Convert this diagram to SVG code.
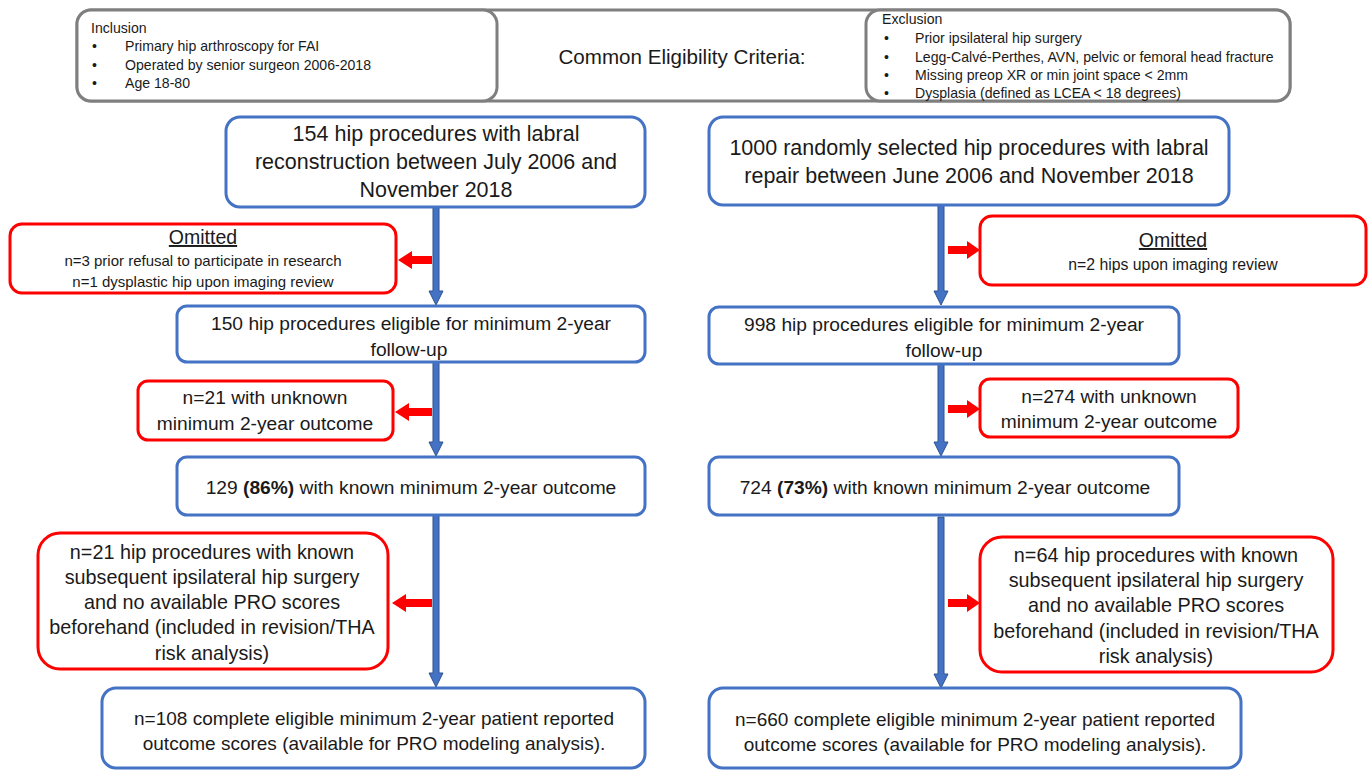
<svg xmlns="http://www.w3.org/2000/svg" width="1371" height="770" viewBox="0 0 1371 770">
<style>
text{font-family:"Liberation Sans",Arial,sans-serif;fill:#1a1a1a}
.g{fill:#fff;stroke:#7f7f7f;stroke-width:3}
.b{fill:#fff;stroke:#4472c4;stroke-width:3}
.r{fill:#fff;stroke:#ff0000;stroke-width:3}
.s13{font-size:14.1px}
.s14{font-size:15px}
.s15{font-size:15.8px}
.s17{font-size:19px}
.s18{font-size:19.2px}
.s20b{font-size:19.8px}
.s19{font-size:20.6px}
.s20{font-size:21.5px}
.om{font-size:19.5px}
.c{text-anchor:middle}
.ba{fill:#4472c4;stroke:#2f528f;stroke-width:1}
.ra{fill:#ff0000}
</style>
<rect width="1371" height="770" fill="#fff"/>
<g id="criteria">
<rect class="g" x="77" y="10" width="1213" height="91" rx="14"/>
<text class="s19 c" x="682" y="64">Common Eligibility Criteria:</text>
</g>
<g id="inclusion">
<rect class="g" x="77" y="10" width="420" height="91" rx="14"/>
<text class="s13" x="91" y="33">Inclusion</text>
<text class="s13" x="92" y="51">•</text><text class="s13" x="125" y="51">Primary hip arthroscopy for FAI</text>
<text class="s13" x="92" y="70">•</text><text class="s13" x="125" y="70">Operated by senior surgeon 2006-2018</text>
<text class="s13" x="92" y="88">•</text><text class="s13" x="125" y="88">Age 18-80</text>
</g>
<g id="exclusion">
<rect class="g" x="866" y="10" width="424" height="91" rx="14"/>
<text class="s13" x="882" y="24">Exclusion</text>
<text class="s13" x="884" y="43">•</text><text class="s13" x="915" y="43">Prior ipsilateral hip surgery</text>
<text class="s13" x="884" y="62">•</text><text class="s13" x="915" y="62">Legg-Calvé-Perthes, AVN, pelvic or femoral head fracture</text>
<text class="s13" x="884" y="80">•</text><text class="s13" x="915" y="80">Missing preop XR or min joint space &lt; 2mm</text>
<text class="s13" x="884" y="98">•</text><text class="s13" x="915" y="98">Dysplasia (defined as LCEA &lt; 18 degrees)</text>
</g>
<g id="connectors">
<polygon class="ba" points="433,207 439,207 439,291 443,291 436,305 429,291 433,291"/>
<polygon class="ba" points="938,205 944,205 944,291 948,291 941,305 934,291 938,291"/>
<polygon class="ba" points="433,362 439,362 439,442 443,442 436,456 429,442 433,442"/>
<polygon class="ba" points="938,364 944,364 944,442 948,442 941,456 934,442 938,442"/>
<polygon class="ba" points="433,515 439,515 439,673 443,673 436,687 429,673 433,673"/>
<polygon class="ba" points="938,517 944,517 944,674 948,674 941,688 934,674 938,674"/>
<polygon class="ra" points="432,256 412,256 412,251 398,260 412,269 412,264 432,264"/>
<polygon class="ra" points="948,246 967,246 967,241 980,250 967,259 967,254 948,254"/>
<polygon class="ra" points="432,408 409,408 409,403 395,412 409,421 409,416 432,416"/>
<polygon class="ra" points="948,405 967,405 967,400 980,409 967,418 967,413 948,413"/>
<polygon class="ra" points="432,599 406,599 406,594 392,603 406,612 406,607 432,607"/>
<polygon class="ra" points="948,599 967,599 967,594 980,603 967,612 967,607 948,607"/>
</g>
<g id="left1">
<rect class="b" x="226" y="117" width="419" height="90" rx="14"/>
<text class="s20 c" x="436" y="141">154 hip procedures with labral</text>
<text class="s20 c" x="436" y="169">reconstruction between July 2006 and</text>
<text class="s20 c" x="436" y="197">November 2018</text>
</g>
<g id="right1">
<rect class="b" x="709" y="117" width="520" height="88" rx="14"/>
<text class="s20 c" x="969" y="155">1000 randomly selected hip procedures with labral</text>
<text class="s20 c" x="969" y="183">repair between June 2006 and November 2018</text>
</g>
<g id="omitLeft">
<rect class="r" x="10" y="224" width="386" height="69" rx="12"/>
<text class="om c" x="203" y="244" text-decoration="underline">Omitted</text>
<text class="s14 c" x="203" y="266">n=3 prior refusal to participate in research</text>
<text class="s14 c" x="203" y="287">n=1 dysplastic hip upon imaging review</text>
</g>
<g id="omitRight">
<rect class="r" x="980" y="216" width="386" height="69" rx="12"/>
<text class="om c" x="1173" y="247" text-decoration="underline">Omitted</text>
<text class="s15 c" x="1173" y="270">n=2 hips upon imaging review</text>
</g>
<g id="left2">
<rect class="b" x="177" y="306" width="468" height="56" rx="10"/>
<text class="s18 c" x="411" y="330">150 hip procedures eligible for minimum 2-year</text>
<text class="s18 c" x="409" y="356">follow-up</text>
</g>
<g id="right2">
<rect class="b" x="709" y="307" width="470" height="57" rx="10"/>
<text class="s18 c" x="944" y="331">998 hip procedures eligible for minimum 2-year</text>
<text class="s18 c" x="944" y="357">follow-up</text>
</g>
<g id="unknownLeft">
<rect class="r" x="138" y="381" width="255" height="59" rx="10"/>
<text class="s18 c" x="265" y="404">n=21 with unknown</text>
<text class="s18 c" x="265" y="430">minimum 2-year outcome</text>
</g>
<g id="unknownRight">
<rect class="r" x="980" y="379" width="258" height="58" rx="10"/>
<text class="s18 c" x="1109" y="403">n=274 with unknown</text>
<text class="s18 c" x="1109" y="428">minimum 2-year outcome</text>
</g>
<g id="left3">
<rect class="b" x="177" y="457" width="468" height="58" rx="10"/>
<text class="s18 c" x="411" y="494">129 <tspan font-weight="bold">(86%)</tspan> with known minimum 2-year outcome</text>
</g>
<g id="right3">
<rect class="b" x="709" y="457" width="470" height="58" rx="10"/>
<text class="s18 c" x="945" y="494">724 <tspan font-weight="bold">(73%)</tspan> with known minimum 2-year outcome</text>
</g>
<g id="revLeft">
<rect class="r" x="38" y="533" width="350" height="136" rx="22"/>
<text class="s20b c" x="212" y="559">n=21 hip procedures with known</text>
<text class="s20b c" x="212" y="584">subsequent ipsilateral hip surgery</text>
<text class="s20b c" x="212" y="609">and no available PRO scores</text>
<text class="s20b c" x="212" y="634">beforehand (included in revision/THA</text>
<text class="s20b c" x="212" y="660">risk analysis)</text>
</g>
<g id="revRight">
<rect class="r" x="980" y="537" width="353" height="135" rx="22"/>
<text class="s20b c" x="1156" y="562">n=64 hip procedures with known</text>
<text class="s20b c" x="1156" y="587">subsequent ipsilateral hip surgery</text>
<text class="s20b c" x="1156" y="612">and no available PRO scores</text>
<text class="s20b c" x="1156" y="638">beforehand (included in revision/THA</text>
<text class="s20b c" x="1156" y="663">risk analysis)</text>
</g>
<g id="left4">
<rect class="b" x="102" y="688" width="543" height="80" rx="14"/>
<text class="s17 c" x="374" y="725">n=108 complete eligible minimum 2-year patient reported</text>
<text class="s17 c" x="374" y="750">outcome scores (available for PRO modeling analysis).</text>
</g>
<g id="right4">
<rect class="b" x="709" y="688" width="532" height="80" rx="14"/>
<text class="s17 c" x="975" y="726">n=660 complete eligible minimum 2-year patient reported</text>
<text class="s17 c" x="975" y="751">outcome scores (available for PRO modeling analysis).</text>
</g>
</svg>
